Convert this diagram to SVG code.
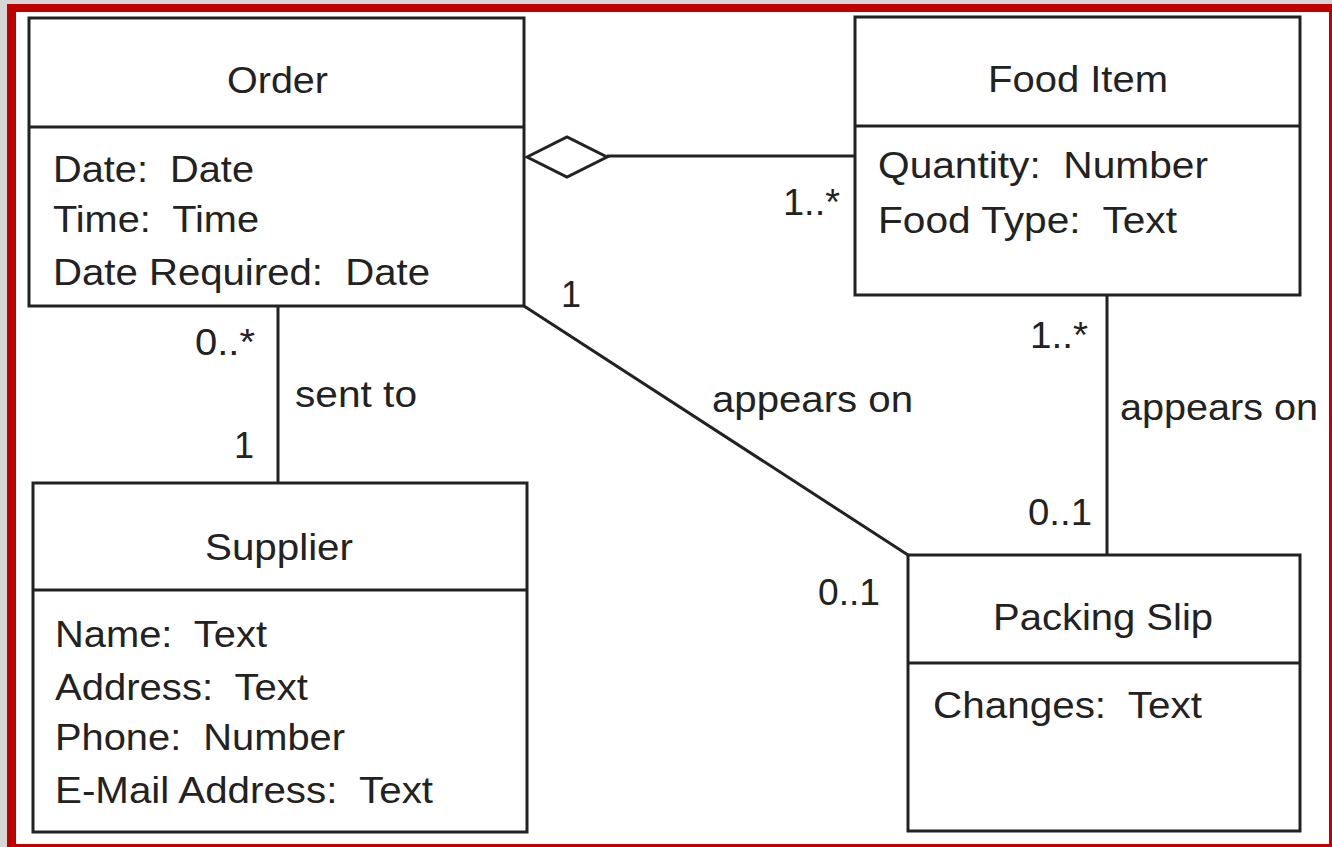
<svg xmlns="http://www.w3.org/2000/svg" width="1332" height="847" viewBox="0 0 1332 847">
  <style>
    .box { fill: #ffffff; stroke: #222222; stroke-width: 3; }
    .div { stroke: #222222; stroke-width: 3; }
    .conn { stroke: #222222; stroke-width: 3; fill: none; }
    text { font-family: "Liberation Sans", Arial, sans-serif; font-size: 36px; fill: #222222; white-space: pre; }
  </style>

  <!-- frame -->
  <rect x="0" y="0" width="1332" height="847" fill="#d6d6d6"/>
  <rect x="7" y="4" width="1325" height="843" fill="#c00000"/>
  <rect x="16" y="12" width="1313" height="832" fill="#ffffff"/>

  <!-- connectors -->
  <g id="connectors">
    <line class="conn" x1="607" y1="156" x2="855" y2="156"/>
    <polygon class="conn" points="527,157 567,137 607,157 567,177" fill="#ffffff"/>
    <line class="conn" x1="278" y1="306" x2="278" y2="483"/>
    <line class="conn" x1="524" y1="306" x2="908" y2="555"/>
    <line class="conn" x1="1107" y1="295" x2="1107" y2="555"/>
    <text x="783" y="215" textLength="57" lengthAdjust="spacingAndGlyphs">1..*</text>
    <text x="195" y="355" textLength="60" lengthAdjust="spacingAndGlyphs">0..*</text>
    <text x="295" y="407" textLength="122" lengthAdjust="spacingAndGlyphs">sent to</text>
    <text x="234" y="458">1</text>
    <text x="561" y="307">1</text>
    <text x="712" y="412" textLength="201" lengthAdjust="spacingAndGlyphs">appears on</text>
    <text x="818" y="605" textLength="62" lengthAdjust="spacingAndGlyphs">0..1</text>
    <text x="1030" y="348" textLength="58" lengthAdjust="spacingAndGlyphs">1..*</text>
    <text x="1120" y="420" textLength="198" lengthAdjust="spacingAndGlyphs">appears on</text>
    <text x="1028" y="525" textLength="64" lengthAdjust="spacingAndGlyphs">0..1</text>
  </g>

  <!-- Order -->
  <g id="order">
    <rect class="box" x="29" y="18" width="495" height="288"/>
    <line class="div" x1="29" y1="127" x2="524" y2="127"/>
    <text x="227" y="93" textLength="101" lengthAdjust="spacingAndGlyphs">Order</text>
    <text x="53" y="182" textLength="201" lengthAdjust="spacingAndGlyphs">Date:  Date</text>
    <text x="53" y="232" textLength="206" lengthAdjust="spacingAndGlyphs">Time:  Time</text>
    <text x="53" y="285" textLength="377" lengthAdjust="spacingAndGlyphs">Date Required:  Date</text>
  </g>

  <!-- Food Item -->
  <g id="food-item">
    <rect class="box" x="855" y="17" width="445" height="278"/>
    <line class="div" x1="855" y1="126" x2="1300" y2="126"/>
    <text x="988" y="92" textLength="180" lengthAdjust="spacingAndGlyphs">Food Item</text>
    <text x="878" y="178" textLength="330" lengthAdjust="spacingAndGlyphs">Quantity:  Number</text>
    <text x="878" y="233" textLength="299" lengthAdjust="spacingAndGlyphs">Food Type:  Text</text>
  </g>

  <!-- Supplier -->
  <g id="supplier">
    <rect class="box" x="33" y="483" width="494" height="349"/>
    <line class="div" x1="33" y1="590" x2="527" y2="590"/>
    <text x="205" y="560" textLength="148" lengthAdjust="spacingAndGlyphs">Supplier</text>
    <text x="55" y="647" textLength="212" lengthAdjust="spacingAndGlyphs">Name:  Text</text>
    <text x="55" y="700" textLength="253" lengthAdjust="spacingAndGlyphs">Address:  Text</text>
    <text x="55" y="750" textLength="290" lengthAdjust="spacingAndGlyphs">Phone:  Number</text>
    <text x="55" y="803" textLength="378" lengthAdjust="spacingAndGlyphs">E-Mail Address:  Text</text>
  </g>

  <!-- Packing Slip -->
  <g id="packing-slip">
    <rect class="box" x="908" y="555" width="392" height="276"/>
    <line class="div" x1="908" y1="663" x2="1300" y2="663"/>
    <text x="993" y="630" textLength="220" lengthAdjust="spacingAndGlyphs">Packing Slip</text>
    <text x="933" y="718" textLength="269" lengthAdjust="spacingAndGlyphs">Changes:  Text</text>
  </g>
</svg>
